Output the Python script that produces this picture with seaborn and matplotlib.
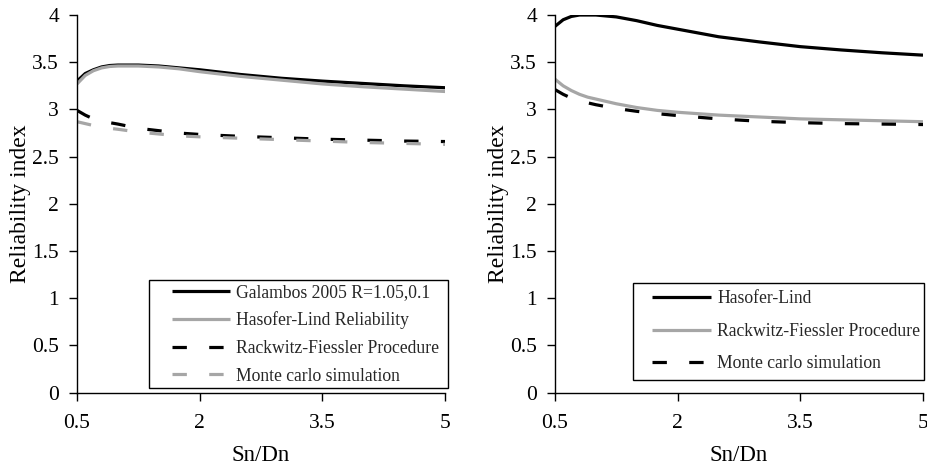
import numpy as np
import pandas as pd
import matplotlib
matplotlib.use("Agg")
import matplotlib.pyplot as plt
from matplotlib.lines import Line2D
from matplotlib.legend_handler import HandlerLine2D
import seaborn as sns

# ---- data ----
sn_dn = [0.5, 0.6, 0.7, 0.8, 0.9, 1.0, 1.25, 1.5, 1.75, 2.0, 2.5, 3.0, 3.5, 4.0, 4.5, 5.0]

# left panel
galambos = [3.30, 3.38, 3.42, 3.45, 3.465, 3.47, 3.47, 3.46, 3.44, 3.42, 3.37, 3.33, 3.30, 3.275, 3.25, 3.23]
hl_rel = [3.27, 3.36, 3.41, 3.44, 3.455, 3.46, 3.46, 3.45, 3.43, 3.40, 3.35, 3.31, 3.27, 3.24, 3.215, 3.19]
rf_left = [2.99, 2.94, 2.90, 2.88, 2.86, 2.845, 2.80, 2.775, 2.75, 2.735, 2.715, 2.70, 2.685, 2.675, 2.665, 2.66]
mc_left = [2.87, 2.85, 2.83, 2.815, 2.80, 2.79, 2.76, 2.74, 2.72, 2.71, 2.695, 2.68, 2.665, 2.65, 2.64, 2.63]

# right panel
hl_right = [3.88, 3.95, 3.985, 4.0, 4.0, 4.0, 3.98, 3.94, 3.89, 3.85, 3.77, 3.715, 3.665, 3.63, 3.60, 3.575]
rf_right = [3.32, 3.25, 3.20, 3.16, 3.13, 3.11, 3.06, 3.02, 2.99, 2.97, 2.94, 2.92, 2.90, 2.89, 2.88, 2.87]
mc_right = [3.21, 3.16, 3.12, 3.09, 3.07, 3.05, 3.01, 2.98, 2.955, 2.935, 2.90, 2.875, 2.86, 2.85, 2.845, 2.84]

left_labels = ["Galambos 2005 R=1.05,0.1", "Hasofer-Lind Reliability",
               "Rackwitz-Fiessler Procedure", "Monte carlo simulation"]
right_labels = ["Hasofer-Lind", "Rackwitz-Fiessler Procedure", "Monte carlo simulation"]

x_ticks = [0.5, 2, 3.5, 5]
x_ticklabels = ["0.5", "2", "3.5", "5"]
y_ticks = [0, 0.5, 1, 1.5, 2, 2.5, 3, 3.5, 4]
y_ticklabels = ["0", "0.5", "1", "1.5", "2", "2.5", "3", "3.5", "4"]

# ---- style ----
sns.set_theme(style="white")
plt.rcParams["font.family"] = ["Liberation Serif", "DejaVu Serif"]

BLACK = "#000000"
GRAY = "#A6A6A6"
LW = 2.3
DASH = (0, (4.5, 7))
LEG_FS = 12.7

fig = plt.figure(figsize=(9.27, 4.65), dpi=100)
ax1 = fig.add_axes([0.0831, 0.1555, 0.397, 0.8122])
ax2 = fig.add_axes([0.5987, 0.1555, 0.397, 0.8122])


def draw(ax, series, labels, styles):
    for vals, lab, (col, ls) in zip(series, labels, styles):
        df = pd.DataFrame({"x": sn_dn, "y": vals})
        sns.lineplot(data=df, x="x", y="y", ax=ax, color=col, lw=LW, label=lab)
        ln = ax.lines[-1]
        ln.set_linestyle(ls)
        ln.set_solid_capstyle("butt")


draw(ax1, [galambos, hl_rel, rf_left, mc_left], left_labels,
     [(BLACK, "-"), (GRAY, "-"), (BLACK, DASH), (GRAY, DASH)])
draw(ax2, [hl_right, rf_right, mc_right], right_labels,
     [(BLACK, "-"), (GRAY, "-"), (BLACK, DASH)])

for ax in (ax1, ax2):
    ax.set_xlim(0.5, 5)
    ax.set_ylim(0, 4)
    ax.set_xticks(x_ticks)
    ax.set_xticklabels(x_ticklabels)
    ax.set_yticks(y_ticks)
    ax.set_yticklabels(y_ticklabels)
    ax.tick_params(axis="both", direction="out", length=6, width=1,
                   color="black", labelsize=15.5, labelcolor="black")
    ax.tick_params(axis="x", pad=9)
    ax.tick_params(axis="y", pad=7)
    ax.tick_params(left=True, bottom=True)
    for s in ("top", "right"):
        ax.spines[s].set_visible(False)
    for s in ("left", "bottom"):
        ax.spines[s].set_color("black")
        ax.spines[s].set_linewidth(1.0)
    ax.set_xlabel("Sn/Dn", fontsize=16.5, color="black", labelpad=9)
    ax.set_ylabel("Reliability index", fontsize=17, color="black", labelpad=1)
    ax.grid(False)

leg1 = ax1.legend(loc="lower left", bbox_to_anchor=(0.196, 0.012, 0.812, 0.286),
                  mode="expand", borderaxespad=0, fontsize=LEG_FS, handlelength=4.4,
                  handletextpad=0.3, labelspacing=0.6, borderpad=0.2,
                  handler_map={Line2D: HandlerLine2D(xpad=1.07)},
                  frameon=True, fancybox=False, framealpha=1, edgecolor="black")
leg1.get_frame().set_linewidth(1.0)

leg2 = ax2.legend(loc="lower left", bbox_to_anchor=(0.212, 0.034, 0.79, 0.256),
                  mode="expand", borderaxespad=0, fontsize=LEG_FS, handlelength=3.97,
                  handletextpad=0.38, labelspacing=0.88, borderpad=0.43,
                  handler_map={Line2D: HandlerLine2D(xpad=0.63)},
                  frameon=True, fancybox=False, framealpha=1, edgecolor="black")
leg2.get_frame().set_linewidth(1.0)

fig.savefig("out.png", dpi=100, facecolor="white")
